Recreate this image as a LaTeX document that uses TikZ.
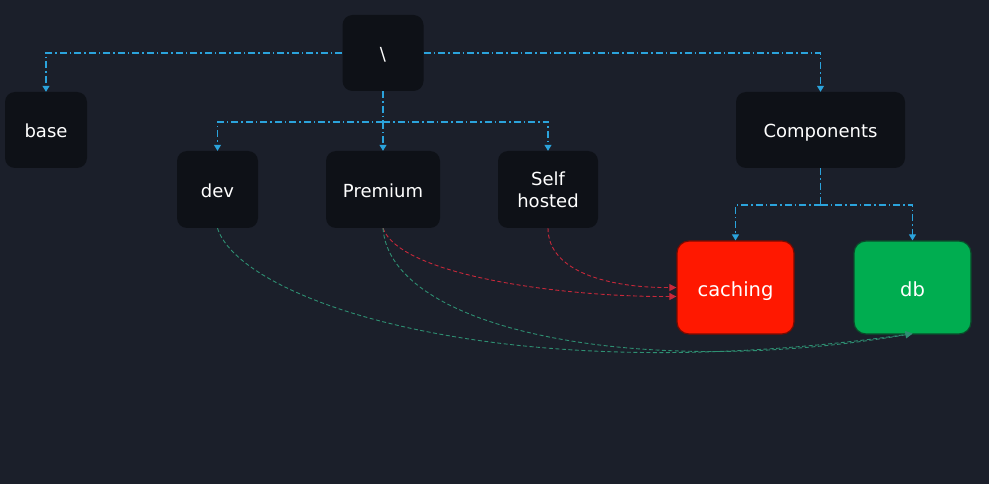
\documentclass[tikz,border=0pt]{standalone}
\usepackage{fontspec}
\setmainfont{DejaVu Sans}
\usetikzlibrary{arrows.meta,positioning}
\definecolor{bgc}{HTML}{1B1F2A}
\definecolor{boxc}{HTML}{0E1117}
\definecolor{linkc}{HTML}{2BA3DC}
\definecolor{redc}{HTML}{FF1800}
\definecolor{redb}{HTML}{7A0A00}
\definecolor{greenc}{HTML}{00AD50}
\definecolor{greenb}{HTML}{0A4A2A}
\definecolor{curvered}{HTML}{C8283A}
\definecolor{curvegreen}{HTML}{2E8F72}
\tikzset{
  x=1pt,y=-1pt,
  darkbox/.style={draw=none,fill=boxc,rounded corners=10pt,text=white,align=center,
    font=\fontsize{18}{22}\selectfont,inner sep=0pt},
  oneline/.style={text height=15pt,text depth=0pt},
  colbox/.style={rounded corners=12pt,text=white,align=center,line width=1.2pt,
    font=\fontsize{19.5}{23}\selectfont,inner sep=0pt,minimum width=117pt,minimum height=93pt,
    text height=18pt,text depth=0pt},
  linkline/.style={draw=linkc,line width=1.1pt,dash pattern=on 7pt off 3pt on 1.5pt off 3pt},
  link/.style={linkline,-{Triangle[width=7pt,length=6pt]}},
  redcurve/.style={draw=curvered,line width=0.9pt,dash pattern=on 4pt off 2.5pt,
    -{Triangle[width=7pt,length=7pt,fill=curvered]}},
  greencurve/.style={draw=curvegreen,line width=0.9pt,dash pattern=on 4pt off 2.5pt,
    -{Triangle[width=7pt,length=7pt,fill=curvegreen]}},
}
\begin{document}
\begin{tikzpicture}
\fill[bgc] (0,0) rectangle (989,484);
\useasboundingbox (0,0) rectangle (989,484);

\node[darkbox,oneline,minimum width=81pt,minimum height=76pt] (root) at (383,53) {\textbackslash};
\node[darkbox,oneline,minimum width=82pt,minimum height=76pt] (base) at (46,130) {base};
\node[darkbox,oneline,minimum width=81pt,minimum height=77pt] (dev) at (217.5,189.5) {dev};
\node[darkbox,oneline,minimum width=114pt,minimum height=77pt] (prem) at (383,189.5) {Premium};
\node[darkbox,minimum width=100pt,minimum height=77pt] (self) at (548,189.5) {Self\\hosted};
\node[darkbox,oneline,minimum width=169pt,minimum height=76pt] (comp) at (820.5,130) {Components};
\node[colbox,fill=redc,draw=redb] (cach) at (735.5,287.5) {caching};
\node[colbox,fill=greenc,draw=greenb] (db) at (912.5,287.5) {db};

\coordinate (b1) at (383,122);
\coordinate (b2) at (820.5,205);

\draw[link] (root.west) -| (base.north);
\draw[link] (root.east) -| (comp.north);
\draw[linkline] (root.south) -- (b1);
\draw[link] (b1) -- (prem.north);
\draw[link] (b1) -| (dev.north);
\draw[link] (b1) -| (self.north);
\draw[linkline] (comp.south) -- (b2);
\draw[link] (b2) -| (cach.north);
\draw[link] (b2) -| (db.north);

\draw[redcurve] (self.south) .. controls (548,272) and (610,288) .. (cach.west);
\draw[redcurve] (prem.south) .. controls (400,275) and (560,297) .. ([yshift=-9pt]cach.west);
\draw[greencurve] (dev.south) .. controls (240,300) and (500,392) .. ([yshift=1pt]db.south);
\draw[greencurve] (prem.south) .. controls (390,330) and (640,380) .. ([yshift=1pt]db.south);
\end{tikzpicture}
\end{document}
